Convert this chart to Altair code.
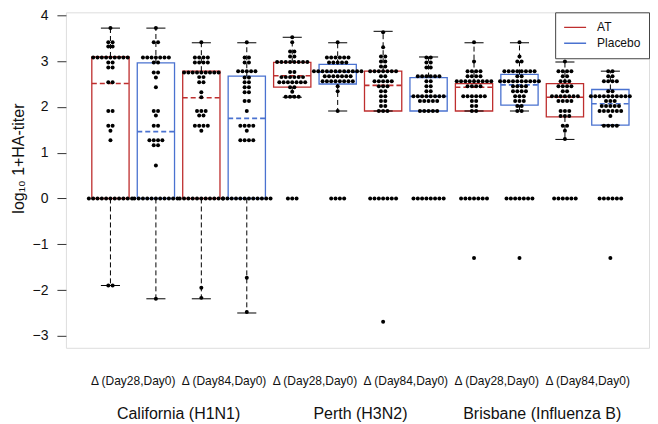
import altair as alt
import pandas as pd

FONT = "Liberation Sans"
RED = "#BE2E2E"
BLUE = "#4A72D0"

strains = ["California (H1N1)", "Perth (H3N2)", "Brisbane (Influenza B)"]
deltas = ["Δ (Day28,Day0)", "Δ (Day84,Day0)"]
groups = ["AT", "Placebo"]

# box statistics (order: strain > delta > group)
q1 = [0, 0, 0, 0, 2.43, 2.50, 1.91, 1.91, 1.91, 2.04, 1.78, 1.60]
med = [2.51, 1.46, 2.20, 1.75, 2.68, 2.76, 2.47, 2.23, 2.43, 2.48, 2.21, 2.07]
q3 = [3.09, 2.96, 2.78, 2.67, 2.97, 2.93, 2.78, 2.64, 2.51, 2.71, 2.51, 2.38]
whi = [3.72, 3.72, 3.40, 3.40, 3.52, 3.40, 3.65, 3.09, 3.40, 3.40, 2.98, 2.78]
wlo = [-1.90, -2.19, -2.19, -2.50, 2.21, 1.91, 1.91, 1.91, 1.91, 1.91, 1.29, 1.60]

# individual titer values (value rows and number of dots per row)
cal28_at_v = [3.72, 3.41, 3.32, 3.08, 2.97, 2.86, 2.54, 1.91, 1.59, 1.48, 1.27, 0, -1.90]
cal28_at_n = [1, 2, 2, 9, 2, 2, 2, 2, 2, 1, 1, 11, 2]
cal28_pl_v = [3.72, 3.41, 3.08, 2.97, 2.75, 2.64, 2.43, 1.91, 1.81, 1.59, 1.27, 1.16, 0.72, 0, -2.19]
cal28_pl_n = [1, 2, 7, 2, 2, 1, 1, 2, 1, 2, 4, 2, 1, 11, 1]
cal84_at_v = [3.41, 3.08, 2.97, 2.75, 2.65, 2.54, 2.32, 2.21, 1.91, 1.81, 1.59, 1.48, 0, -1.95, -2.17]
cal84_at_n = [1, 4, 4, 9, 2, 2, 1, 1, 3, 2, 4, 1, 11, 1, 1]
cal84_pl_v = [3.41, 3.08, 2.97, 2.78, 2.64, 2.54, 2.43, 2.32, 2.13, 1.91, 1.59, 1.48, 1.27, 0, -1.73, -2.48]
cal84_pl_n = [1, 2, 2, 5, 2, 2, 2, 2, 2, 1, 4, 1, 4, 12, 1, 1]
per28_at_v = [3.52, 3.41, 3.21, 3.10, 2.98, 2.76, 2.65, 2.54, 2.43, 2.33, 2.22, 0]
per28_at_n = [1, 1, 2, 2, 8, 2, 6, 7, 2, 1, 4, 3]
per28_pl_v = [3.41, 3.08, 2.97, 2.78, 2.67, 2.56, 2.45, 2.34, 1.91, 0]
per28_pl_n = [1, 6, 5, 12, 7, 8, 1, 1, 1, 4]
per84_at_v = [3.63, 3.30, 3.10, 2.99, 2.88, 2.78, 2.67, 2.56, 2.45, 2.34, 2.23, 2.13, 2.02, 1.91, 0, -2.69]
per84_at_n = [1, 1, 2, 2, 2, 7, 2, 5, 3, 2, 2, 2, 2, 3, 7, 1]
per84_pl_v = [3.08, 2.97, 2.86, 2.67, 2.56, 2.45, 2.34, 2.23, 2.13, 1.91, 0]
per84_pl_n = [2, 2, 2, 6, 2, 2, 2, 8, 5, 5, 8]
bri28_at_v = [3.41, 2.99, 2.78, 2.67, 2.56, 2.45, 2.23, 2.13, 2.02, 1.91, 0, -1.30]
bri28_at_n = [1, 1, 4, 4, 9, 4, 6, 2, 2, 2, 7, 1]
bri28_pl_v = [3.41, 3.10, 2.99, 2.78, 2.67, 2.56, 2.45, 2.34, 2.23, 2.13, 2.02, 1.91, 0, -1.30]
bri28_pl_n = [1, 1, 2, 8, 2, 10, 4, 4, 3, 3, 2, 2, 7, 1]
bri84_at_v = [2.99, 2.78, 2.67, 2.56, 2.45, 2.34, 2.23, 2.13, 1.91, 1.80, 1.59, 1.48, 1.30, 0]
bri84_at_n = [1, 4, 2, 3, 4, 2, 7, 4, 3, 3, 2, 1, 1, 6]
bri84_pl_v = [2.78, 2.67, 2.56, 2.34, 2.23, 2.13, 2.02, 1.91, 1.80, 1.59, 0, -1.30]
bri84_pl_n = [2, 2, 4, 2, 10, 3, 5, 6, 1, 4, 6, 1]

point_lists = [
    (cal28_at_v, cal28_at_n), (cal28_pl_v, cal28_pl_n),
    (cal84_at_v, cal84_at_n), (cal84_pl_v, cal84_pl_n),
    (per28_at_v, per28_at_n), (per28_pl_v, per28_pl_n),
    (per84_at_v, per84_at_n), (per84_pl_v, per84_pl_n),
    (bri28_at_v, bri28_at_n), (bri28_pl_v, bri28_pl_n),
    (bri84_at_v, bri84_at_n), (bri84_pl_v, bri84_pl_n),
]

# ---- tables ----
box_rows = []
i = 0
for s in strains:
    for d in deltas:
        for g in groups:
            box_rows.append(dict(pos=i + 1, strain=s, delta=d, group=g,
                                 q1=q1[i], med=med[i], q3=q3[i], whi=whi[i], wlo=wlo[i]))
            i += 1
box_df = pd.DataFrame(box_rows)

pt_rows = []
for k, (vals, cnts) in enumerate(point_lists):
    for v, c in zip(vals, cnts):
        for _ in range(c):
            pt_rows.append(dict(pos=k + 1, value=v))
pts_df = pd.DataFrame(pt_rows)

# ---- layout constants ----
W, H = 584, 336
BOX_HALF = 0.41
STAPLE_HALF = 0.21
STEP = 0.095

xs = alt.Scale(domain=[0.02, 12.85], nice=False, zero=False)
ys = alt.Scale(domain=[-3.26, 4.065], nice=False, zero=False)
cs = alt.Scale(domain=groups, range=[RED, BLUE])

base = alt.Chart(box_df).transform_calculate(
    xl=f"datum.pos - {BOX_HALF}", xr=f"datum.pos + {BOX_HALF}",
    sl=f"datum.pos - {STAPLE_HALF}", sr=f"datum.pos + {STAPLE_HALF}",
)

yaxis = alt.Axis(values=[-3, -2, -1, 0, 1, 2, 3, 4], format="d", grid=False, domain=False,
                 ticks=True, tickSize=9, tickColor="#333", labelFontSize=14, labelFont=FONT,
                 labelColor="#111", labelPadding=9,
                 title="log₁₀ 1+HA-titer", titleFont=FONT, titleFontSize=16,
                 titleFontWeight="normal", titleColor="#111",
                 titleX=-47, titleY=146, titleBaseline="middle", titleAlign="center")

boxes = base.mark_rect(fillOpacity=0, strokeWidth=1.3).encode(
    x=alt.X("xl:Q", scale=xs, axis=None),
    x2="xr:Q",
    y=alt.Y("q1:Q", scale=ys, axis=yaxis),
    y2="q3:Q",
    stroke=alt.Stroke("group:N", scale=cs, legend=alt.Legend(
        title=None, orient="top-right", offset=0, symbolType="stroke", symbolSize=484,
        symbolStrokeWidth=1.3, strokeColor="#444", fillColor="white", padding=8,
        labelFontSize=12, labelFont=FONT, labelColor="#111", labelOffset=10,
        rowPadding=2, clipHeight=14)),
)

medians = base.mark_rule(strokeDash=[5, 3], strokeWidth=1.6).encode(
    x=alt.X("xl:Q", scale=xs), x2="xr:Q",
    y=alt.Y("med:Q", scale=ys),
    stroke=alt.Stroke("group:N", scale=cs, legend=None),
)

wh_up = base.mark_rule(strokeDash=[5, 3], color="black", strokeWidth=1).encode(
    x=alt.X("pos:Q", scale=xs), y=alt.Y("q3:Q", scale=ys), y2="whi:Q")
wh_lo = base.mark_rule(strokeDash=[5, 3], color="black", strokeWidth=1).encode(
    x=alt.X("pos:Q", scale=xs), y=alt.Y("q1:Q", scale=ys), y2="wlo:Q")
staples = base.transform_fold(["whi", "wlo"], as_=["end", "yv"]).mark_rule(
    color="black", strokeWidth=1).encode(
    x=alt.X("sl:Q", scale=xs), x2="sr:Q", y=alt.Y("yv:Q", scale=ys))

points = alt.Chart(pts_df).transform_window(
    rank="row_number()", groupby=["pos", "value"]
).transform_joinaggregate(
    n="count()", groupby=["pos", "value"]
).transform_calculate(
    xp=f"datum.pos + (datum.rank - (datum.n + 1) / 2) * {STEP}"
).mark_circle(size=16, color="black", opacity=1).encode(
    x=alt.X("xp:Q", scale=xs), y=alt.Y("value:Q", scale=ys))

delta_lbl = alt.Chart(box_df).transform_aggregate(
    cx="mean(pos)", groupby=["strain", "delta"]
).mark_text(fontSize=12, font=FONT, baseline="middle", color="#111").encode(
    x=alt.X("cx:Q", scale=xs), y=alt.value(369), text="delta:N")

strain_lbl = alt.Chart(box_df).transform_aggregate(
    cx="mean(pos)", groupby=["strain"]
).mark_text(fontSize=16, font=FONT, baseline="middle", color="#111").encode(
    x=alt.X("cx:Q", scale=xs), y=alt.value(402), text="strain:N")

chart = alt.layer(boxes, medians, wh_up, wh_lo, staples, points, delta_lbl, strain_lbl).properties(
    width=W, height=H,
    padding={"left": 58, "top": 4, "right": 1, "bottom": 76},
    autosize=alt.AutoSizeParams(type="none"),
).configure_view(stroke="#444", strokeWidth=1).configure(background="white")

chart.save("out.html", embed_options={"renderer": "svg", "actions": False})
